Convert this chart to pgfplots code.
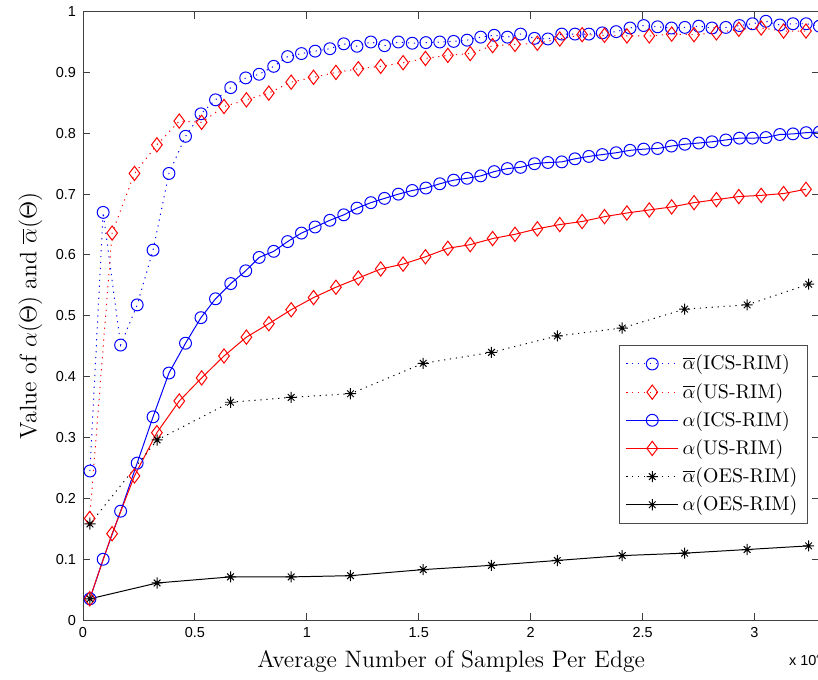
\documentclass[border=0pt]{standalone}
\usepackage{fontspec}
\usepackage{pgfplots}
\pgfplotsset{compat=1.18}
\newfontfamily\helv{Liberation Sans}

% matlab style '*' marker: a plus and a cross
\pgfdeclareplotmark{mstar}{%
  \pgfpathmoveto{\pgfqpoint{-\pgfplotmarksize}{0pt}}\pgfpathlineto{\pgfqpoint{\pgfplotmarksize}{0pt}}%
  \pgfpathmoveto{\pgfqpoint{0pt}{-\pgfplotmarksize}}\pgfpathlineto{\pgfqpoint{0pt}{\pgfplotmarksize}}%
  \pgfpathmoveto{\pgfqpoint{-.6\pgfplotmarksize}{-.6\pgfplotmarksize}}\pgfpathlineto{\pgfqpoint{.6\pgfplotmarksize}{.6\pgfplotmarksize}}%
  \pgfpathmoveto{\pgfqpoint{-.6\pgfplotmarksize}{.6\pgfplotmarksize}}\pgfpathlineto{\pgfqpoint{.6\pgfplotmarksize}{-.6\pgfplotmarksize}}%
  \pgfusepathqstroke}

\begin{document}
\begin{tikzpicture}
\begin{axis}[
    name=ax,
    scale only axis,
    width=371.5pt, height=307pt,
    xmin=0, xmax=3.29,
    ymin=0, ymax=1,
    xtick={0,0.5,1,1.5,2,2.5,3},
    ytick={0,0.1,0.2,0.3,0.4,0.5,0.6,0.7,0.8,0.9,1},
    tick align=inside,
    major tick length=3.5pt,
    axis line style={black!75, line width=0.5pt},
    every tick/.style={black!75, line width=0.5pt},
    tick label style={font=\helv\fontsize{7.3}{8}\selectfont},
    /pgf/number format/assume math mode=true,
    label style={font=\fontsize{12}{14}\selectfont},
    xlabel={Average Number of Samples Per Edge},
    ylabel={Value of $\alpha(\Theta)$ and $\overline{\alpha}(\Theta)$},
    legend style={at={(0.984,0.158)}, anchor=south east, draw=black!70,
        font=\fontsize{10}{12}\selectfont, row sep=1.2pt, inner sep=3pt},
    legend cell align=left,
    legend image code/.code={\draw[mark repeat=2,mark phase=2] plot coordinates {(0cm,0cm) (0.46cm,0cm) (0.92cm,0cm)};},
    clip=false,
]
% alpha-bar ICS-RIM
\addplot[blue, line width=0.5pt, dash pattern=on 0.6pt off 2.4pt, mark=o, mark size=3pt, mark options={solid}] coordinates {
(0.031,0.245) (0.090,0.670) (0.168,0.452) (0.242,0.518) (0.313,0.608) (0.384,0.734)
(0.458,0.795) (0.527,0.832) (0.592,0.855) (0.660,0.875) (0.727,0.891) (0.787,0.897)
(0.852,0.910) (0.914,0.926) (0.976,0.931) (1.037,0.935) (1.103,0.939) (1.165,0.947)
(1.224,0.943) (1.286,0.950) (1.347,0.944) (1.409,0.950) (1.471,0.948) (1.532,0.949)
(1.594,0.950) (1.656,0.951) (1.716,0.953) (1.777,0.958) (1.837,0.961) (1.896,0.958)
(1.955,0.963) (2.017,0.956) (2.077,0.955) (2.139,0.963) (2.198,0.963) (2.260,0.963)
(2.320,0.965) (2.382,0.967) (2.444,0.973) (2.505,0.977) (2.567,0.975) (2.629,0.973)
(2.689,0.974) (2.751,0.976) (2.810,0.973) (2.872,0.974) (2.933,0.977) (2.991,0.980)
(3.051,0.984) (3.113,0.978) (3.172,0.980) (3.231,0.980) (3.290,0.976)
};
% alpha-bar US-RIM
\addplot[red, line width=0.5pt, dash pattern=on 0.6pt off 2.4pt, mark=diamond, mark size=3.6pt, mark options={solid}] coordinates {
(0.03,0.167) (0.13,0.636) (0.23,0.734) (0.33,0.781) (0.43,0.820) (0.53,0.818)
(0.63,0.844) (0.73,0.855) (0.83,0.866) (0.93,0.884) (1.03,0.892) (1.13,0.900)
(1.23,0.906) (1.33,0.910) (1.43,0.916) (1.53,0.923) (1.63,0.928) (1.73,0.931)
(1.83,0.944) (1.93,0.946) (2.03,0.948) (2.13,0.955) (2.23,0.962) (2.33,0.961)
(2.43,0.960) (2.53,0.960) (2.63,0.963) (2.73,0.962) (2.83,0.965) (2.93,0.971)
(3.03,0.973) (3.13,0.968) (3.23,0.968)
};
% alpha ICS-RIM
\addplot[blue, line width=0.5pt, mark=o, mark size=3pt] coordinates {
(0.031,0.035) (0.090,0.100) (0.168,0.179) (0.242,0.258) (0.313,0.334) (0.384,0.406)
(0.458,0.455) (0.527,0.497) (0.592,0.528) (0.660,0.553) (0.727,0.574) (0.787,0.596)
(0.852,0.606) (0.914,0.622) (0.976,0.636) (1.037,0.646) (1.103,0.657) (1.165,0.666)
(1.224,0.677) (1.286,0.686) (1.347,0.693) (1.409,0.700) (1.471,0.706) (1.532,0.710)
(1.594,0.717) (1.656,0.723) (1.716,0.726) (1.777,0.730) (1.837,0.737) (1.896,0.742)
(1.955,0.744) (2.017,0.750) (2.077,0.752) (2.139,0.753) (2.198,0.758) (2.260,0.762)
(2.320,0.765) (2.382,0.768) (2.444,0.772) (2.505,0.774) (2.567,0.775) (2.629,0.779)
(2.689,0.782) (2.751,0.784) (2.810,0.786) (2.872,0.789) (2.933,0.792) (2.991,0.792)
(3.051,0.793) (3.113,0.798) (3.172,0.799) (3.231,0.801) (3.290,0.802)
};
% alpha US-RIM
\addplot[red, line width=0.5pt, mark=diamond, mark size=3.6pt] coordinates {
(0.03,0.035) (0.13,0.142) (0.23,0.237) (0.33,0.308) (0.43,0.360) (0.53,0.398)
(0.63,0.434) (0.73,0.465) (0.83,0.487) (0.93,0.510) (1.03,0.530) (1.13,0.547)
(1.23,0.562) (1.33,0.577) (1.43,0.585) (1.53,0.597) (1.63,0.611) (1.73,0.617)
(1.83,0.627) (1.93,0.634) (2.03,0.643) (2.13,0.650) (2.23,0.655) (2.33,0.663)
(2.43,0.669) (2.53,0.674) (2.63,0.679) (2.73,0.686) (2.83,0.691) (2.93,0.696)
(3.03,0.698) (3.13,0.701) (3.23,0.708)
};
% alpha-bar OES-RIM
\addplot[black, line width=0.5pt, dash pattern=on 0.6pt off 2.4pt, mark=mstar, mark size=2.8pt, mark options={solid}] coordinates {
(0.031,0.158) (0.331,0.296) (0.659,0.358) (0.930,0.366) (1.195,0.372) (1.520,0.422)
(1.825,0.440) (2.119,0.467) (2.409,0.480) (2.688,0.511) (2.967,0.518) (3.242,0.552)
};
% alpha OES-RIM
\addplot[black, line width=0.5pt, mark=mstar, mark size=2.8pt] coordinates {
(0.031,0.035) (0.331,0.061) (0.659,0.071) (0.930,0.071) (1.195,0.073) (1.520,0.083)
(1.825,0.090) (2.119,0.098) (2.409,0.106) (2.688,0.110) (2.967,0.116) (3.242,0.122)
};
\legend{$\overline{\alpha}$(ICS-RIM), $\overline{\alpha}$(US-RIM), $\alpha$(ICS-RIM),
        $\alpha$(US-RIM), $\overline{\alpha}$(OES-RIM), $\alpha$(OES-RIM)}
\end{axis}
\node[anchor=base west, font=\helv\fontsize{7.3}{8}\selectfont, inner sep=0pt]
    at ([shift={(356pt,-23pt)}]ax.south west) {x 10\textsuperscript{4}};
\coordinate (L) at ([xshift=-6pt]ax.outer south west);
\coordinate (R) at ([xshift=-0.7pt]ax.south east);
\coordinate (T) at (ax.outer north east);
\pgfresetboundingbox
\path[use as bounding box] (L) rectangle (R |- T);
\end{tikzpicture}
\end{document}
